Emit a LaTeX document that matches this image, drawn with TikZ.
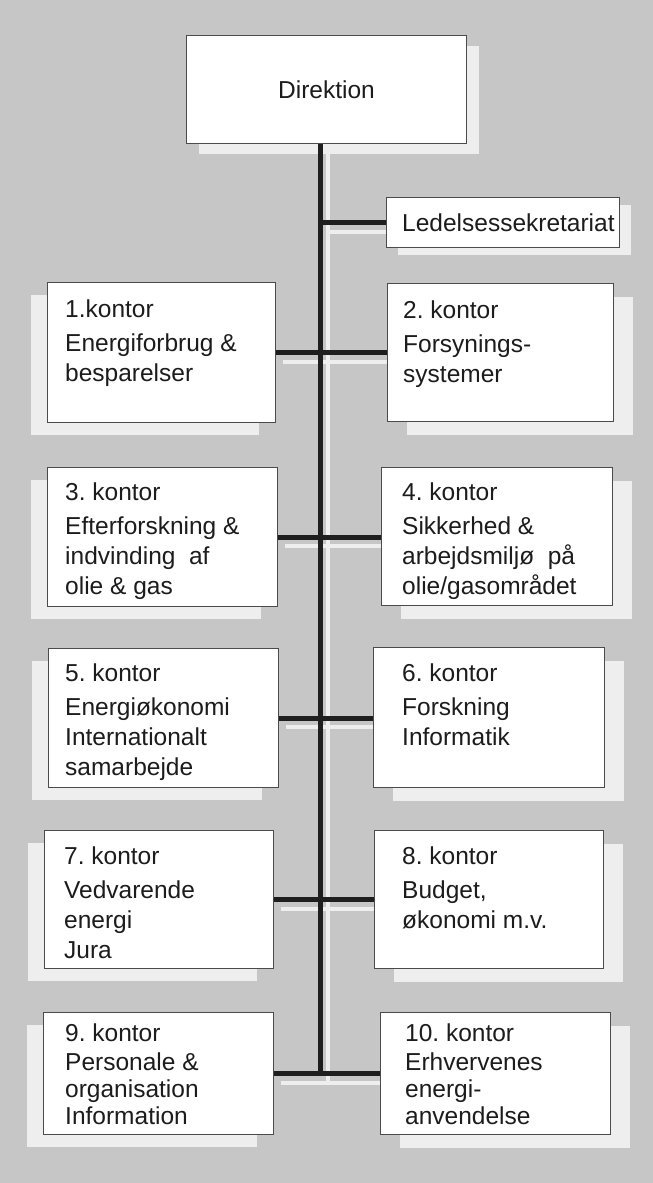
\documentclass[tikz,border=0pt]{standalone}
\usepackage{fontspec}
\setmainfont{Liberation Sans}
\usetikzlibrary{calc, positioning, shadows, backgrounds}

\definecolor{panelgray}{RGB}{198,198,198}
\definecolor{shadowwhite}{RGB}{238,238,238}
\definecolor{linedark}{RGB}{30,30,30}
\definecolor{edgegray}{RGB}{75,75,75}
\definecolor{inkgray}{RGB}{28,28,28}
\frenchspacing

\begin{document}
\begin{tikzpicture}[
		x=1pt, y=-1pt,
		font=\fontsize{24.5}{30}\selectfont,
		office/.style={draw=edgegray, line width=1pt, fill=white, inner sep=0pt, anchor=north west, text=inkgray},
		leftoffice/.style={office, general shadow={fill=shadowwhite, shadow xshift=-17pt, shadow yshift=-12pt}},
		rightoffice/.style={office, general shadow={fill=shadowwhite, shadow xshift=19pt, shadow yshift=-13pt}},
		officetext/.style={anchor=north west, align=left, inner sep=0pt, text=inkgray},
		spine/.style={linedark, line width=5pt},
		glow/.style={shadowwhite, line width=4pt}
		]
		
		\useasboundingbox (0,0) rectangle (653,1183);
		
		% top of the tree
		\node[office, minimum width=280pt, minimum height=108pt,
		general shadow={fill=shadowwhite, shadow xshift=12pt, shadow yshift=-10pt}] (dir) at (186,35) {};
		\node[text=inkgray] (dirt) at (dir.center) {Direktion};
		
		\node[office, minimum width=233pt, minimum height=50pt,
		general shadow={fill=shadowwhite, shadow xshift=11pt, shadow yshift=-7pt}] (sek) at (386,197) {};
		\node[officetext, anchor=west] (sekt) at ($(sek.west)+(16,0)$) {Ledelsessekretariat};
		
		% the ten offices
		\node[leftoffice, minimum width=228pt, minimum height=140pt] (k1) at (47,282) {};
		\node[rightoffice, minimum width=226pt, minimum height=138pt] (k2) at (387,283) {};
		\node[leftoffice, minimum width=230pt, minimum height=139pt] (k3) at (47,467) {};
		\node[rightoffice, minimum width=231pt, minimum height=138pt] (k4) at (381,467) {};
		\node[leftoffice, minimum width=230pt, minimum height=139pt] (k5) at (48,648) {};
		\node[rightoffice, minimum width=231pt, minimum height=140pt] (k6) at (373,647) {};
		\node[leftoffice, minimum width=229pt, minimum height=138pt] (k7) at (44,830) {};
		\node[rightoffice, minimum width=229pt, minimum height=138pt] (k8) at (374,830) {};
		\node[leftoffice, minimum width=230pt, minimum height=122pt] (k9) at (43,1012) {};
		\node[rightoffice, minimum width=230pt, minimum height=122pt] (k10) at (380,1012) {};
		
		\node[officetext] (k1t) at ($(k1.north west)+(18,18)$) {1.kontor\\[4pt] Energiforbrug \&\\ besparelser};
		\node[officetext] (k2t) at ($(k2.north west)+(16,18)$) {2. kontor\\[4pt] Forsynings-\\ systemer};
		\node[officetext] (k3t) at ($(k3.north west)+(18,16)$) {3. kontor\\[4pt] Efterforskning \&\\ indvinding\ \ af\\ olie \& gas};
		\node[officetext] (k4t) at ($(k4.north west)+(21,16)$) {4. kontor\\[4pt] Sikkerhed \&\\ arbejdsmiljø\ \ på\\ olie/gasområdet};
		\node[officetext] (k5t) at ($(k5.north west)+(17,16)$) {5. kontor\\[4pt] Energiøkonomi\\ Internationalt\\ samarbejde};
		\node[officetext] (k6t) at ($(k6.north west)+(29,17)$) {6. kontor\\[4pt] Forskning\\ Informatik};
		\node[officetext] (k7t) at ($(k7.north west)+(20,17)$) {7. kontor\\[4pt] Vedvarende\\ energi\\ Jura};
		\node[officetext] (k8t) at ($(k8.north west)+(28,17)$) {8. kontor\\[4pt] Budget,\\ økonomi m.v.};
		\node[officetext, font=\fontsize{24.5}{27}\selectfont] (k9t) at ($(k9.north west)+(22,12)$) {9. kontor\\[2pt] Personale \&\\ organisation\\ Information};
		\node[officetext, font=\fontsize{24.5}{27}\selectfont] (k10t) at ($(k10.north west)+(25,12)$) {10. kontor\\[2pt] Erhvervenes\\ energi-\\ anvendelse};
		
		\coordinate (sptop) at ($(dir.south)+(-6,0)$);
		
		% panel and light line shadows behind everything
		\begin{pgfonlayer}{background}
			\fill[panelgray] (0,0) rectangle (653,1183);
			\draw[glow] ($(sptop)+(7,0)$) -- ($(sptop |- k9.east)+(7,8)$);
			\draw[glow] ($(sek.west -| sptop)+(7,9)$) -- ($(sek.west)+(7,9)$);
			\foreach \l/\r in {k1/k2, k3/k4, k5/k6, k7/k8, k9/k10}
			\draw[glow] ($(\l.east)+(7,9)$) -- ($(\l.east -| \r.west)+(7,9)$);
		\end{pgfonlayer}
		
		% connectors
		\draw[spine] (sptop) -- (sptop |- k9.east);
		\draw[spine] (sek.west -| sptop) -- (sek.west);
		\foreach \l/\r in {k1/k2, k3/k4, k5/k6, k7/k8, k9/k10}
		\draw[spine] (\l.east) -- (\l.east -| \r.west);
		
	\end{tikzpicture}
\end{document}
